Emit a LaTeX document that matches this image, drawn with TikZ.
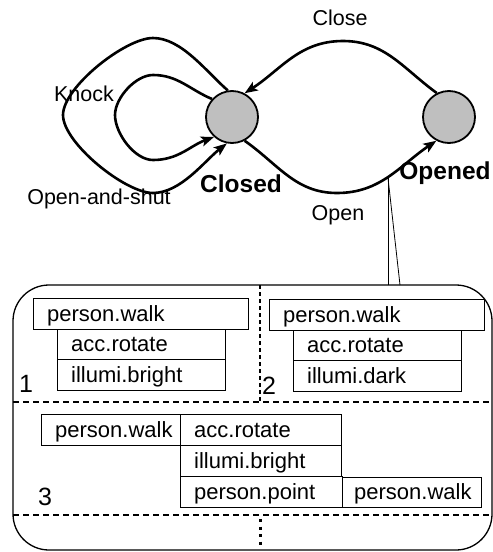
\documentclass[tikz,border=0pt]{standalone}
\usepackage{fontspec}
\setmainfont{Liberation Sans}
\usetikzlibrary{arrows.meta}
\begin{document}
\begin{tikzpicture}[x=1pt,y=1pt,
  lbl/.style={font=\fontsize{21.5}{25}\selectfont, inner sep=0pt, anchor=base},
  blbl/.style={font=\fontsize{24.5}{28}\selectfont\bfseries, inner sep=0pt, anchor=base},
  state/.style={circle, draw, line width=1.8pt, fill=gray!50, minimum size=52pt, inner sep=0pt},
  trans/.style={line width=2.6pt, -{Stealth[length=13pt,width=10pt,inset=3pt]}},
  cell/.style={draw, line width=1.2pt, rectangle, inner sep=0pt, anchor=north west},
  ctext/.style={font=\fontsize{22}{25}\selectfont, inner sep=0pt, anchor=base west},
  num/.style={font=\fontsize{25}{28}\selectfont, inner sep=0pt, anchor=base west},
  sep/.style={line width=1.4pt, dash pattern=on 6pt off 4pt},
]
\useasboundingbox (0,0) rectangle (493,-552);

% states
\node[state] (cl) at (232,-117) {};
\node[state] (op) at (449,-117) {};

% transitions
\draw[trans] (op.117) to[out=144,in=0] (343,-41) to[out=180,in=33] (cl.62);
\draw[trans] (cl.-62) to[out=-35,in=180] (337,-193) to[out=0,in=214] (op.-118);
\draw[trans] (cl.138) to[out=157,in=0] (153,-75) to[out=180,in=90,looseness=0.8] (115,-115)
   to[out=-90,in=180,looseness=0.8] (153,-160) to[out=0,in=200] (cl.228);
\draw[trans] (cl.99) to[out=139,in=0,looseness=0.8] (153,-38) to[out=180,in=90,looseness=0.6] (63,-115)
   to[out=-90,in=180,looseness=0.6] (153,-193) to[out=0,in=218,looseness=0.8] (cl.259);

% labels
\node[lbl] (lclose) at (340,-25) {Close};
\node[lbl] (lknock) at (84,-101) {Knock};
\node[lbl] (loas) at (99,-204) {Open-and-shut};
\node[lbl] (lopen) at (338,-220) {Open};
\node[blbl] (lclosed) at (241,-192) {Closed};
\node[blbl] (lopened) at (445,-179) {Opened};

% zoom lines
\coordinate (ap) at (388,-178);
\coordinate (z1) at (388,-285);
\coordinate (z2) at (400,-285);
\draw[line width=0.8pt] (ap) -- (z1);
\draw[line width=0.8pt] (ap) -- (z2);

% container
\draw[line width=1.3pt, rounded corners=36pt] (13,-285) rectangle (492,-550);
\coordinate (h1a) at (13,-402);
\coordinate (h1b) at (492,-402);
\coordinate (h2a) at (13,-515);
\coordinate (h2b) at (492,-515);
\draw[sep] (h1a) -- (h1b);
\draw[sep] (h2a) -- (h2b);
\coordinate (v1a) at (260,-285);
\coordinate (v1b) at (260,-402);
\draw[line width=1.4pt, dash pattern=on 4pt off 3pt] (v1a) -- (v1b);
\coordinate (d1) at (260,-519);
\coordinate (d2) at (260,-547);
\draw[line width=3pt, dash pattern=on 3pt off 4.5pt] (d1) -- (d2);

% section 1
\node[cell, minimum width=215pt, minimum height=31pt] (a1) at (33,-298) {};
\node[cell, minimum width=168pt, minimum height=30pt] (a2) at (57,-329) {};
\node[cell, minimum width=168pt, minimum height=31pt] (a3) at (57,-359) {};
\node[ctext] at ([xshift=14pt,yshift=9pt]a1.south west) {person.walk};
\node[ctext] at ([xshift=14pt,yshift=9pt]a2.south west) {acc.rotate};
\node[ctext] at ([xshift=14pt,yshift=9pt]a3.south west) {illumi.bright};
\node[num] (n1) at (19,-392) {1};

% section 2
\node[cell, minimum width=215pt, minimum height=31pt] (b1) at (269,-299) {};
\node[cell, minimum width=168pt, minimum height=30pt] (b2) at (293,-330) {};
\node[cell, minimum width=168pt, minimum height=31pt] (b3) at (293,-360) {};
\node[ctext] at ([xshift=14pt,yshift=9pt]b1.south west) {person.walk};
\node[ctext] at ([xshift=14pt,yshift=9pt]b2.south west) {acc.rotate};
\node[ctext] at ([xshift=14pt,yshift=9pt]b3.south west) {illumi.dark};
\node[num] (n2) at (262,-394) {2};

% section 3
\node[cell, minimum width=139pt, minimum height=31pt] (c1) at (41,-414) {};
\node[cell, minimum width=161pt, minimum height=31pt] (c2) at (180,-414) {};
\node[cell, minimum width=161pt, minimum height=31pt] (c3) at (180,-445) {};
\node[cell, minimum width=162pt, minimum height=31pt] (c4) at (180,-476) {};
\node[cell, minimum width=139pt, minimum height=30pt] (c5) at (342,-477) {};
\node[ctext] at ([xshift=14pt,yshift=9pt]c1.south west) {person.walk};
\node[ctext] at ([xshift=14pt,yshift=9pt]c2.south west) {acc.rotate};
\node[ctext] at ([xshift=14pt,yshift=9pt]c3.south west) {illumi.bright};
\node[ctext] at ([xshift=14pt,yshift=9pt]c4.south west) {person.point};
\node[ctext] at ([xshift=12pt,yshift=9pt]c5.south west) {person.walk};
\node[num] (n3) at (38,-505) {3};
\end{tikzpicture}
\end{document}
